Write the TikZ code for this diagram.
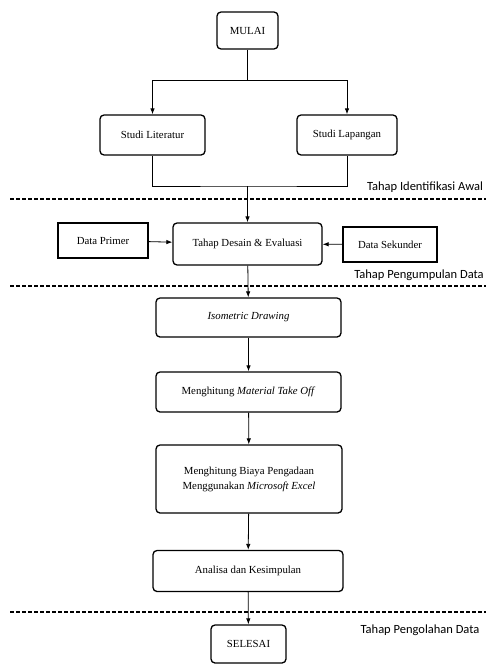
\documentclass[tikz,border=0pt]{standalone}
\usepackage{fontspec}
\setmainfont{Liberation Serif}
\newfontfamily\phasefont{Carlito}
\usetikzlibrary{arrows.meta}
\usetikzlibrary{calc}

\begin{document}
\begin{tikzpicture}[x=1pt,y=-1pt,
   box/.style={draw,line width=1.3pt,rounded corners=4pt,inner sep=0pt,align=center,
      font=\fontsize{10.8}{15}\selectfont},
   databox/.style={box,rounded corners=0pt,line width=1.1pt},
   flow/.style={line width=0.8pt,-{Latex[length=6pt,width=4.5pt]}},
   link/.style={line width=0.8pt},
   phase/.style={font=\phasefont\fontsize{12.5}{14}\selectfont,inner sep=0pt},
   phase line/.style={line width=2.6pt,dash pattern=on 4pt off 2pt}]
\useasboundingbox (0,0) rectangle (489,664);

\node[box,minimum width=61pt,minimum height=37pt] (mulai) at (247.5,30.5) {MULAI};
\node[box,minimum width=105pt,minimum height=40pt] (literatur) at (152.5,135) {Studi Literatur};
\node[box,minimum width=100pt,minimum height=40pt] (lapangan) at (347,135) {Studi Lapangan};
\node[box,minimum width=149pt,minimum height=42pt] (desain) at (247.5,244) {Tahap Desain \& Evaluasi};
\node[databox,minimum width=90pt,minimum height=35pt] (primer) at (103,240.5) {Data Primer};
\node[databox,minimum width=94pt,minimum height=35pt] (sekunder) at (390,244.5) {Data Sekunder};
\node[box,minimum width=185pt,minimum height=39pt] (iso) at (248.5,317.5) {\itshape Isometric Drawing};
\node[box,minimum width=185pt,minimum height=40pt] (mto) at (248.5,392) {Menghitung \textit{Material Take Off}};
\node[box,minimum width=186pt,minimum height=68pt] (biaya) at (249,479)
   {Menghitung Biaya Pengadaan\\Menggunakan \textit{Microsoft Excel}};
\node[box,minimum width=190pt,minimum height=41pt] (analisa) at (248,571) {Analisa dan Kesimpulan};
\node[box,minimum width=75pt,minimum height=38pt] (selesai) at (248.5,644) {SELESAI};

% garis tahap
\foreach \y in {199,286,612}
   \draw[phase line] (10,\y) -- (486,\y);
\node[phase] (awal) at (425,187) {Tahap Identifikasi Awal};
\node[phase] (kumpul) at (419,275) {Tahap Pengumpulan Data};
\node[phase] (olah) at (420,630) {Tahap Pengolahan Data};

\coordinate (split) at (247.5,80);
\coordinate (merge) at (247.5,186);
\draw[link] (mulai.south) -- (split);
\draw[flow] (split) -| (literatur.north);
\draw[flow] (split) -| (lapangan.north);
\draw[link] (literatur.south) |- (merge) -| (lapangan.south);
\draw[flow] (merge) -- (desain.north);
\draw[flow] (primer) -- (desain);
\draw[flow] (sekunder) -- (desain);
\draw[flow] (desain) -- (iso);
\draw[flow] (iso) -- (mto);
\draw[flow] (mto) -- (biaya);
\draw[flow] (biaya) -- (analisa);
\draw[flow] (analisa) -- (selesai);
\end{tikzpicture}
\end{document}
